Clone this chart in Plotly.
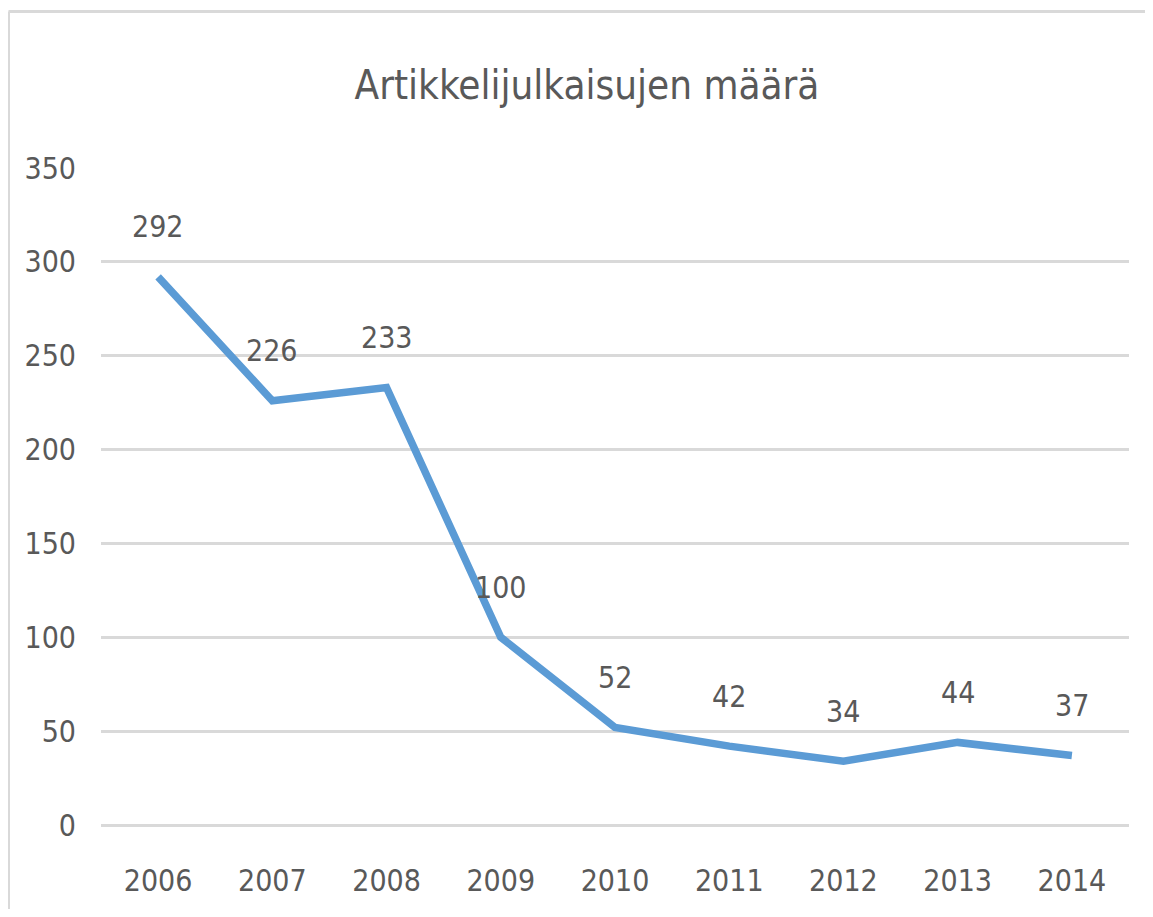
import plotly.graph_objects as go

years = ["2006", "2007", "2008", "2009", "2010", "2011", "2012", "2013", "2014"]
counts = [292, 226, 233, 100, 52, 42, 34, 44, 37]
y_ticks = [0, 50, 100, 150, 200, 250, 300, 350]
title_text = "Artikkelijulkaisujen määrä"

FONT = "DejaVu Sans Condensed, Liberation Sans Narrow, Roboto Condensed, Noto Sans, sans-serif"
GREY = "#595959"
GRID = "#D9D9D9"

W, H = 1145, 901
L, R, T, B = 93, 24, 160, 84

fig = go.Figure()
fig.add_trace(go.Scatter(
    x=years, y=counts, mode="lines",
    line=dict(color="#5B9BD5", width=7.5),
    hoverinfo="x+y",
))

for i, v in enumerate(counts):
    fig.add_annotation(x=i, y=v, text=str(v), showarrow=False,
                       yshift=50, font=dict(family=FONT, size=30, color=GREY))

pw = W - L - R
ph = H - T - B
x0 = (0.5 - L) / pw
y1 = (H - B - 3.5) / ph
fig.add_shape(type="line", xref="paper", yref="paper", x0=x0, x1=(W + 5 - L) / pw,
              y0=y1, y1=y1, line=dict(color=GRID, width=3))
fig.add_shape(type="line", xref="paper", yref="paper", x0=x0, x1=x0,
              y0=y1, y1=(H - B - (H + 5)) / ph, line=dict(color=GRID, width=3))

fig.update_layout(
    width=W, height=H,
    margin=dict(l=L, r=R, t=T, b=B),
    paper_bgcolor="white", plot_bgcolor="white",
    showlegend=False,
    title=dict(text=title_text, x=579 / W, xref="container", xanchor="center",
               y=1 - 77 / H, yanchor="middle",
               font=dict(family=FONT, size=40, color=GREY)),
    font=dict(family=FONT, color=GREY),
    xaxis=dict(type="category", range=[-0.5, len(years) - 0.5],
               showgrid=False, zeroline=False, showline=False,
               ticks="", tickfont=dict(family=FONT, size=30, color=GREY),
               ticklabelstandoff=35),
    yaxis=dict(range=[0, 350], tickvals=y_ticks, showgrid=True, gridcolor=GRID,
               gridwidth=2.5, zeroline=True, zerolinecolor=GRID, zerolinewidth=2.5,
               showline=False, ticks="", tickfont=dict(family=FONT, size=30, color=GREY),
               ticklabelstandoff=24),
)

fig.write_html("out.html", config={"displayModeBar": False})
